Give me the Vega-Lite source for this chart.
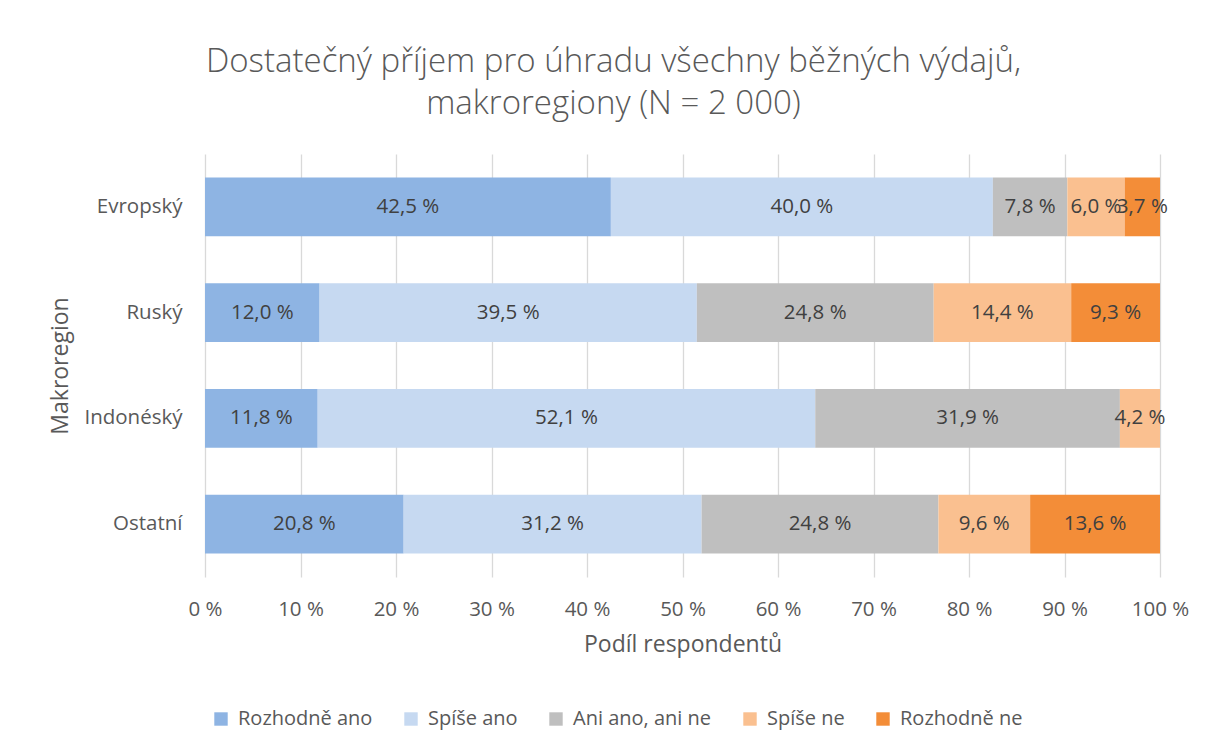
{
  "$schema": "https://vega.github.io/schema/vega-lite/v6.json",
  "autosize": "none",
  "width": 955,
  "height": 423,
  "padding": {"left": 205, "top": 154, "right": 54, "bottom": 175},
  "background": "white",
  "title": {
    "text": ["Dostatečný příjem pro úhradu všechny běžných výdajů,", "makroregiony (N = 2 000)"],
    "anchor": "middle",
    "frame": "group",
    "dx": -69,
    "offset": 33,
    "font": "Open Sans",
    "fontSize": 33,
    "fontWeight": 300,
    "color": "#595959",
    "lineHeight": 42
  },
  "data": {
    "values": [
      {"region": "Evropský", "cat": "Rozhodně ano", "k": 1, "v": 42.5},
      {"region": "Evropský", "cat": "Spíše ano", "k": 2, "v": 40.0},
      {"region": "Evropský", "cat": "Ani ano, ani ne", "k": 3, "v": 7.8},
      {"region": "Evropský", "cat": "Spíše ne", "k": 4, "v": 6.0},
      {"region": "Evropský", "cat": "Rozhodně ne", "k": 5, "v": 3.7},
      {"region": "Ruský", "cat": "Rozhodně ano", "k": 1, "v": 12.0},
      {"region": "Ruský", "cat": "Spíše ano", "k": 2, "v": 39.5},
      {"region": "Ruský", "cat": "Ani ano, ani ne", "k": 3, "v": 24.8},
      {"region": "Ruský", "cat": "Spíše ne", "k": 4, "v": 14.4},
      {"region": "Ruský", "cat": "Rozhodně ne", "k": 5, "v": 9.3},
      {"region": "Indonéský", "cat": "Rozhodně ano", "k": 1, "v": 11.8},
      {"region": "Indonéský", "cat": "Spíše ano", "k": 2, "v": 52.1},
      {"region": "Indonéský", "cat": "Ani ano, ani ne", "k": 3, "v": 31.9},
      {"region": "Indonéský", "cat": "Spíše ne", "k": 4, "v": 4.2},
      {"region": "Ostatní", "cat": "Rozhodně ano", "k": 1, "v": 20.8},
      {"region": "Ostatní", "cat": "Spíše ano", "k": 2, "v": 31.2},
      {"region": "Ostatní", "cat": "Ani ano, ani ne", "k": 3, "v": 24.8},
      {"region": "Ostatní", "cat": "Spíše ne", "k": 4, "v": 9.6},
      {"region": "Ostatní", "cat": "Rozhodně ne", "k": 5, "v": 13.6}
    ]
  },
  "transform": [
    {"stack": "v", "groupby": ["region"], "sort": [{"field": "k", "order": "ascending"}], "as": ["v0", "v1"]},
    {"calculate": "(datum.v0 + datum.v1) / 2", "as": "mid"},
    {"calculate": "replace(format(datum.v, '.1f'), '.', ',') + ' %'", "as": "lbl"}
  ],
  "encoding": {
    "y": {
      "field": "region",
      "type": "nominal",
      "sort": ["Evropský", "Ruský", "Indonéský", "Ostatní"],
      "scale": {"paddingInner": 0.443, "paddingOuter": 0.2215},
      "axis": {
        "title": "Makroregion",
        "ticks": false,
        "domain": false,
        "labelPadding": 23,
        "labelFont": "Open Sans",
        "labelFontSize": 20.5,
        "labelColor": "#595959",
        "titleFont": "Open Sans",
        "titleFontSize": 23,
        "titleFontWeight": "normal",
        "titleColor": "#595959",
        "titlePadding": 11
      }
    }
  },
  "layer": [
    {
      "mark": {"type": "bar"},
      "encoding": {
        "x": {
          "field": "v0",
          "type": "quantitative",
          "scale": {"domain": [0, 100], "nice": false},
          "axis": {
            "title": "Podíl respondentů",
            "values": [0, 10, 20, 30, 40, 50, 60, 70, 80, 90, 100],
            "labelExpr": "datum.value + ' %'",
            "labelFlush": false,
            "labelOverlap": false,
            "grid": true,
            "gridColor": "#D9D9D9",
            "gridWidth": 1.3,
            "ticks": false,
            "domain": false,
            "labelPadding": 22,
            "labelFont": "Open Sans",
            "labelFontSize": 20.5,
            "labelColor": "#595959",
            "titleFont": "Open Sans",
            "titleFontSize": 23,
            "titleFontWeight": "normal",
            "titleColor": "#595959",
            "titlePadding": 14
          }
        },
        "x2": {"field": "v1"},
        "color": {
          "field": "cat",
          "type": "nominal",
          "scale": {
            "domain": ["Rozhodně ano", "Spíše ano", "Ani ano, ani ne", "Spíše ne", "Rozhodně ne"],
            "range": ["#8EB4E3", "#C6D9F1", "#BFBFBF", "#FAC090", "#F38D38"]
          },
          "legend": {
            "title": null,
            "orient": "none",
            "direction": "horizontal",
            "legendX": 6,
            "legendY": 555,
            "symbolType": "square",
            "symbolSize": 180,
            "symbolStrokeWidth": 0,
            "symbolOpacity": 1,
            "labelFont": "Open Sans",
            "labelFontSize": 20,
            "labelColor": "#595959",
            "labelOffset": 7,
            "columnPadding": 28,
            "padding": 0
          }
        }
      }
    },
    {
      "mark": {"type": "text", "font": "Open Sans", "fontSize": 20.5, "color": "#404040", "align": "center", "baseline": "middle"},
      "encoding": {
        "x": {"field": "mid", "type": "quantitative"},
        "text": {"field": "lbl"}
      }
    }
  ],
  "config": {
    "view": {"stroke": null}
  }
}
